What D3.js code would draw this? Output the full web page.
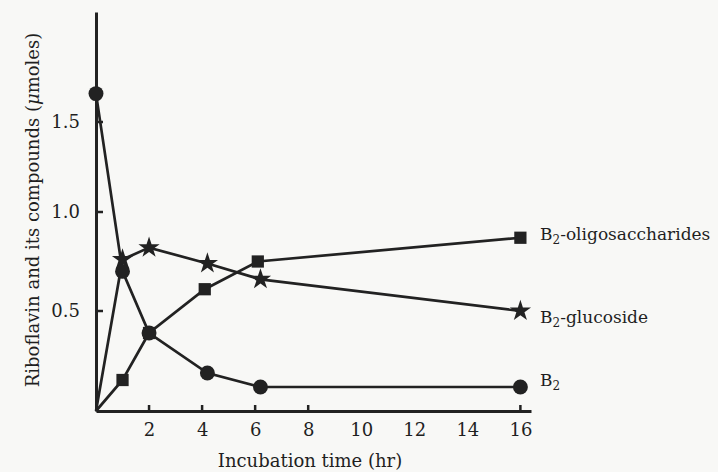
<!DOCTYPE html>
<html>
<head>
<meta charset="utf-8">
<script src="https://cdn.jsdelivr.net/npm/d3@7"></script>
<style>
  body { margin: 0; background: #f8f8f6; }
  svg { display: block; }
  text { font-family: "DejaVu Serif", "Liberation Serif", serif; fill: #1f1f1f; }
</style>
</head>
<body>
<svg id="chart" width="718" height="472"></svg>
<script>
const INK = "#222";

// incubation times (hr) and amounts (umoles)
const timesB2 = [0, 1, 2, 4.2, 6.2, 16];
const valuesB2 = [1.66, 0.70, 0.39, 0.19, 0.12, 0.12];

const timesGlu = [0, 1, 2, 4.2, 6.2, 16];
const valuesGlu = [0, 0.76, 0.82, 0.74, 0.66, 0.50];

const timesOligo = [0, 1, 2, 4.1, 6.1, 16];
const valuesOligo = [0, 0.155, 0.39, 0.61, 0.75, 0.87];

const xTicks = [2, 4, 6, 8, 10, 12, 14, 16];
const xTickMarks = [2, 4, 6, 8, 16];
const yTicks = [0.5, 1.0, 1.5];

const svg = d3.select("#chart");

// the hand-drawn axis is not quite even, so the scale follows the drawn ticks
const x = d3.scaleLinear().domain([0, 16.4]).range([96, 531]);
const y = d3.scaleLinear().domain([0, 0.5, 1.0, 1.5, 2.12]).range([411, 311, 212, 122, 12]);

// axes
const xAxis = svg.append("g")
  .attr("transform", "translate(0," + y(0) + ")")
  .call(d3.axisBottom(x).tickValues(xTicks).tickSize(0).tickPadding(12).tickFormat(d3.format("d")));
xAxis.select(".domain").attr("stroke", INK).attr("stroke-width", 3);
xAxis.selectAll("text").style("font-size", "18px").style("font-family", "DejaVu Serif").attr("fill", "#1f1f1f");

svg.append("g").selectAll("line")
  .data(xTickMarks)
  .join("line")
  .attr("x1", d => x(d)).attr("x2", d => x(d))
  .attr("y1", y(0)).attr("y2", y(0) - 6)
  .attr("stroke", INK).attr("stroke-width", 2.5);

const yAxis = svg.append("g")
  .attr("transform", "translate(" + x(0) + ",0)")
  .call(d3.axisLeft(y).tickValues(yTicks).tickSize(0).tickPadding(16).tickFormat(d3.format(".1f")));
yAxis.select(".domain").attr("stroke", INK).attr("stroke-width", 3);
yAxis.selectAll("text").style("font-size", "18px").style("font-family", "DejaVu Serif").attr("fill", "#1f1f1f");

svg.append("g").selectAll("line")
  .data(yTicks)
  .join("line")
  .attr("x1", x(0)).attr("x2", x(0) + 7)
  .attr("y1", d => y(d)).attr("y2", d => y(d))
  .attr("stroke", INK).attr("stroke-width", 2.5);

// axis titles
svg.append("text")
  .attr("x", 310).attr("y", 467)
  .attr("text-anchor", "middle")
  .style("font-size", "18px")
  .text("Incubation time (hr)");

const yTitle = svg.append("text")
  .attr("transform", "translate(39,210) rotate(-90)")
  .attr("text-anchor", "middle")
  .style("font-size", "18px");
yTitle.append("tspan").text("Riboflavin and its compounds (");
yTitle.append("tspan").style("font-style", "italic").text("\u03bc");
yTitle.append("tspan").text("moles)");

// series
const line = d3.line().x(d => x(d[0])).y(d => y(d[1]));

const series = [
  { name: "oligo", pts: d3.zip(timesOligo, valuesOligo), symbol: d3.symbolSquare, size: 150 },
  { name: "glu", pts: d3.zip(timesGlu, valuesGlu), symbol: d3.symbolStar, size: 140 },
  { name: "b2", pts: d3.zip(timesB2, valuesB2), symbol: d3.symbolCircle, size: 175 }
];

series.forEach(s => {
  svg.append("path")
    .attr("d", line(s.pts))
    .attr("fill", "none")
    .attr("stroke", INK)
    .attr("stroke-width", 2.7);
});

series.forEach(s => {
  svg.append("g").selectAll("path")
    .data(s.pts.filter(d => d[0] > 0 || d[1] > 0))
    .join("path")
    .attr("transform", d => "translate(" + x(d[0]) + "," + y(d[1]) + ")")
    .attr("d", d3.symbol().type(s.symbol).size(s.size))
    .attr("fill", INK);
});

// end labels
const labels = [
  { main: "B", sub: "2", rest: "-oligosaccharides", x: 540, y: 240 },
  { main: "B", sub: "2", rest: "-glucoside", x: 540, y: 323 },
  { main: "B", sub: "2", rest: "", x: 540, y: 386 }
];

labels.forEach(l => {
  const t = svg.append("text").attr("x", l.x).attr("y", l.y).style("font-size", "17px");
  t.append("tspan").text(l.main);
  t.append("tspan").attr("dy", 4).style("font-size", "12px").text(l.sub);
  t.append("tspan").attr("dy", -4).text(l.rest);
});
</script>
</body>
</html>
